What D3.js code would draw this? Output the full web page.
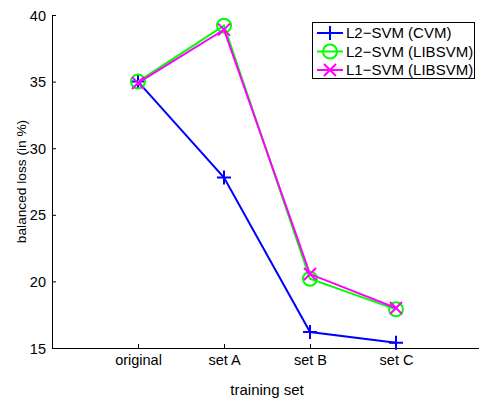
<!DOCTYPE html>
<html><head><meta charset="utf-8">
<script src="https://cdn.jsdelivr.net/npm/d3@7"></script>
<style>body{margin:0;background:#fff}svg{display:block}</style>
</head><body><svg id="c" width="479" height="399"></svg>
<script>
const categories = ["original", "set A", "set B", "set C"];
const seriesNames = ["L2\u2212SVM (CVM)", "L2\u2212SVM (LIBSVM)", "L1\u2212SVM (LIBSVM)"];
const l2cvm = [35.0, 27.8, 16.2, 15.4];
const l2libsvm = [35.0, 39.2, 20.2, 17.9];
const l1libsvm = [34.9, 38.9, 20.55, 18.0];
const yTicks = [15, 20, 25, 30, 35, 40];
const colors = ["#0000ff", "#00ff00", "#ff00ff"];
const markers = ["plus", "circle", "cross"];

const svg = d3.select("#c");
const L = 52, R = 482, T = 15, B = 348;
const x = d3.scaleLinear().domain([0, 5]).range([L, R]);
const y = d3.scaleLinear().domain([15, 40]).range([B, T]);
const font = "Liberation Sans, Arial, sans-serif";

// axes
const xAxis = d3.axisBottom(x).tickValues([1,2,3,4]).tickFormat((d,i)=>categories[i]).tickSizeInner(-4).tickSizeOuter(0).tickPadding(7);
const gx = svg.append("g").attr("transform", `translate(0,${B})`).call(xAxis);
const yAxis = d3.axisLeft(y).tickValues(yTicks).tickSizeInner(-4).tickSizeOuter(0).tickPadding(6);
const gy = svg.append("g").attr("transform", `translate(${L},0)`).call(yAxis);
[gx, gy].forEach(g => {
  g.selectAll("path.domain").attr("stroke", "#000").attr("stroke-width", 1);
  g.selectAll(".tick line").attr("stroke", "#000");
  g.selectAll("text").attr("font-family", font).attr("font-size", 14.5).attr("fill", "#000");
});
gy.selectAll("text").attr("dy", "0.35em");

svg.append("text").attr("x", x(2.5)).attr("y", 395).attr("text-anchor", "middle")
  .attr("font-family", font).attr("font-size", 15).text("training set");
svg.append("text").attr("transform", `translate(26,${(T+B)/2}) rotate(-90)`).attr("text-anchor", "middle")
  .attr("font-family", font).attr("font-size", 13.7).text("balanced loss (in %)");

function drawMarker(g, type, cx, cy, color) {
  if (type === "plus") {
    g.append("path").attr("d", `M${cx-7},${cy}H${cx+7}M${cx},${cy-7}V${cy+7}`).attr("stroke", color).attr("stroke-width", 2).attr("fill", "none");
  } else if (type === "circle") {
    g.append("circle").attr("cx", cx).attr("cy", cy).attr("r", 7).attr("stroke", color).attr("stroke-width", 2).attr("fill", "none");
  } else {
    g.append("path").attr("d", `M${cx-6},${cy-6}L${cx+6},${cy+6}M${cx-6},${cy+6}L${cx+6},${cy-6}`).attr("stroke", color).attr("stroke-width", 2).attr("fill", "none");
  }
}

const allSeries = [l2cvm, l2libsvm, l1libsvm];
const line = d3.line().x((d,i)=>x(i+1)).y(d=>y(d));
allSeries.forEach((vals, s) => {
  const g = svg.append("g");
  g.append("path").datum(vals).attr("d", line).attr("fill", "none").attr("stroke", colors[s]).attr("stroke-width", 2);
  vals.forEach((v,i) => drawMarker(g, markers[s], x(i+1), y(v), colors[s]));
});

// legend
const lg = svg.append("g");
lg.append("rect").attr("x", 312.5).attr("y", 22.5).attr("width", 162).attr("height", 56).attr("fill", "#fff").attr("stroke", "#000").attr("stroke-width", 1);
seriesNames.forEach((name, s) => {
  const ly = 33 + s * 18.5;
  lg.append("line").attr("x1", 317).attr("x2", 343).attr("y1", ly).attr("y2", ly).attr("stroke", colors[s]).attr("stroke-width", 2);
  drawMarker(lg, markers[s], 330, ly, colors[s]);
  lg.append("text").attr("x", 346).attr("y", ly).attr("dy", "0.36em").attr("font-family", font).attr("font-size", 15).text(name);
});
</script></body></html>
